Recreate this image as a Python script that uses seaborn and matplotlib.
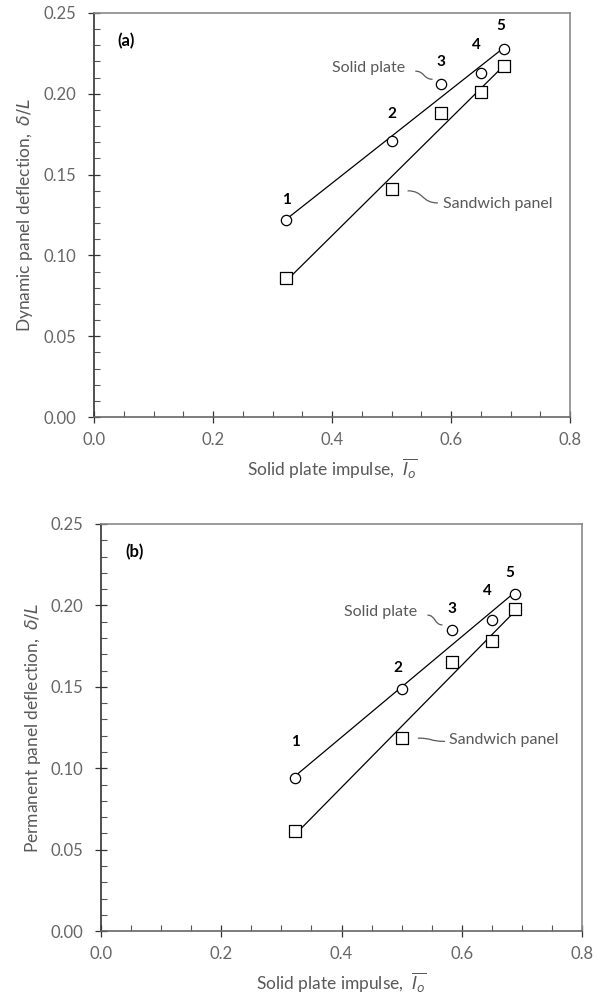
import numpy as np
import pandas as pd
import seaborn as sns
import matplotlib.pyplot as plt
from matplotlib.path import Path
from matplotlib.patches import PathPatch
from matplotlib.ticker import MultipleLocator, FormatStrFormatter

# Solid plate impulse (normalised) for the five load cases
impulse = [0.323, 0.501, 0.583, 0.650, 0.689]

# (a) dynamic deflection delta/L
dyn_solid = [0.122, 0.171, 0.206, 0.213, 0.228]
dyn_sandwich = [0.086, 0.141, 0.188, 0.201, 0.217]

# (b) permanent deflection delta/L
perm_solid = [0.094, 0.1485, 0.185, 0.191, 0.207]
perm_sandwich = [0.0614, 0.1184, 0.165, 0.178, 0.198]

case_labels = ["1", "2", "3", "4", "5"]

sns.set_theme(style="white")
plt.rcParams["font.family"] = ["Lato", "DejaVu Sans"]
plt.rcParams["mathtext.fontset"] = "dejavusans"

GREY = "#595959"

fig = plt.figure(figsize=(5.95, 9.98), dpi=100)
ax_a = fig.add_axes([0.158, 0.582, 0.800, 0.405])
ax_b = fig.add_axes([0.170, 0.067, 0.808, 0.408])


def squiggle(ax, p0, p3):
    """Small S-shaped leader line between two data points."""
    (x0, y0), (x3, y3) = p0, p3
    dx = x3 - x0
    verts = [(x0, y0), (x0 + 0.55 * dx, y0), (x3 - 0.55 * dx, y3), (x3, y3)]
    codes = [Path.MOVETO, Path.CURVE4, Path.CURVE4, Path.CURVE4]
    ax.add_patch(PathPatch(Path(verts, codes), fill=False, edgecolor=GREY,
                           lw=0.9, zorder=2))


def draw_panel(ax, solid, sandwich, tag, ylabel, ylabelpad, num_offsets,
               solid_txt, solid_lead, sand_txt, sand_lead):
    df = pd.DataFrame({"impulse": impulse, "solid": solid, "sandwich": sandwich})
    for col, mk, sz in (("solid", "o", 55), ("sandwich", "s", 65)):
        sns.regplot(data=df, x="impulse", y=col, ax=ax, ci=None, marker=mk,
                    color="black", truncate=True,
                    scatter_kws=dict(s=sz, facecolors="white", edgecolors="black",
                                     linewidths=0.9, alpha=1, zorder=3),
                    line_kws=dict(lw=0.9, color="black", zorder=2))

    ax.set_xlim(0, 0.8)
    ax.set_ylim(0, 0.25)
    ax.xaxis.set_major_locator(MultipleLocator(0.2))
    ax.xaxis.set_minor_locator(MultipleLocator(0.05))
    ax.yaxis.set_major_locator(MultipleLocator(0.05))
    ax.yaxis.set_minor_locator(MultipleLocator(0.01))
    ax.xaxis.set_major_formatter(FormatStrFormatter("%.1f"))
    ax.yaxis.set_major_formatter(FormatStrFormatter("%.2f"))
    ax.tick_params(which="major", direction="inout", length=8, width=0.9,
                   color="#333333", labelsize=12, labelcolor="#666666")
    ax.tick_params(axis="y", which="major", pad=9)
    ax.tick_params(axis="x", which="major", pad=7)
    ax.tick_params(which="minor", direction="in", length=4, width=0.8,
                   color="#555555")
    ax.tick_params(bottom=True, left=True, which="both")

    ax.spines["left"].set_color("#333333")
    ax.spines["bottom"].set_color("#666666")
    ax.spines["top"].set_color("#8a8a8a")
    ax.spines["right"].set_color("#8a8a8a")
    for s in ax.spines.values():
        s.set_linewidth(1.2)

    ax.set_xlabel(r"Solid plate impulse,  $\overline{I_o}$", fontsize=12.5,
                  color=GREY, labelpad=6)
    ax.set_ylabel(ylabel, fontsize=12.5, color=GREY, labelpad=ylabelpad)

    ax.text(0.05, 0.93, tag, transform=ax.transAxes, fontsize=12,
            fontweight="bold", color="black", ha="left", va="center")

    for xi, yi, lab, off in zip(impulse, solid, case_labels, num_offsets):
        ax.annotate(lab, (xi, yi), xytext=off, textcoords="offset points",
                    ha="center", va="center", fontsize=11, fontweight="bold",
                    color="black")

    ax.text(*solid_txt, "Solid plate", fontsize=11.5, color=GREY,
            ha="right", va="center")
    squiggle(ax, *solid_lead)
    ax.text(*sand_txt, "Sandwich panel", fontsize=11.5, color=GREY,
            ha="left", va="center")
    squiggle(ax, *sand_lead)


draw_panel(ax_a, dyn_solid, dyn_sandwich, "(a)",
           r"Dynamic panel deflection,  $\delta/L$", 6,
           [(0, 14), (0, 19), (0, 16), (-3, 20), (-2, 16)],
           (0.523, 0.216), ((0.540, 0.214), (0.569, 0.209)),
           (0.587, 0.132), ((0.527, 0.140), (0.578, 0.1325)))

draw_panel(ax_b, perm_solid, perm_sandwich, "(b)",
           r"Permanent panel deflection,  $\delta/L$", 5,
           [(0, 26), (-3, 15), (0, 15), (-3, 21), (-4, 15)],
           (0.526, 0.196), ((0.543, 0.194), (0.568, 0.188)),
           (0.579, 0.1173), ((0.527, 0.1185), (0.572, 0.1165)))

fig.savefig("out.png", dpi=100)
